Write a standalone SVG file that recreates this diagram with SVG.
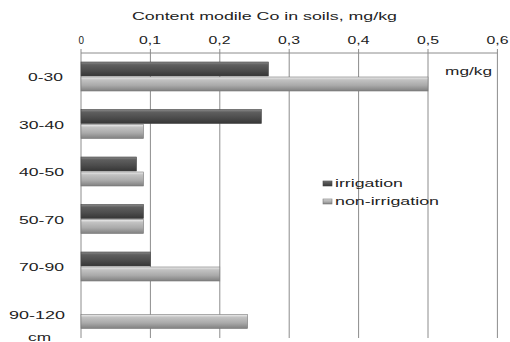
<svg xmlns="http://www.w3.org/2000/svg" width="510" height="342" viewBox="0 0 510 342">
<defs>
<linearGradient id="gDark" x1="0" y1="0" x2="0" y2="1">
<stop offset="0" stop-color="#8a8a8a"/>
<stop offset="0.2" stop-color="#5e5e5e"/>
<stop offset="0.6" stop-color="#4c4c4c"/>
<stop offset="1" stop-color="#363636"/>
</linearGradient>
<linearGradient id="gLight" x1="0" y1="0" x2="0" y2="1">
<stop offset="0" stop-color="#efefef"/>
<stop offset="0.2" stop-color="#c2c2c2"/>
<stop offset="0.6" stop-color="#aaaaaa"/>
<stop offset="1" stop-color="#808080"/>
</linearGradient>
<style>
.t{font-family:"Liberation Sans",Arial,sans-serif;font-size:10.5px;fill:#222}
.grid{stroke:#8c8c8c;stroke-width:1;fill:none}
.dark{fill:url(#gDark);stroke:#444;stroke-width:0.6}
.light{fill:url(#gLight);stroke:#777;stroke-width:0.6}
</style>
</defs>
<rect width="510" height="342" fill="#ffffff"/>
<text class="t" x="132" y="20" textLength="265" lengthAdjust="spacingAndGlyphs">Content  modile  Co in soils,  mg/kg</text>
<g id="axis">
<g class="grid">
<line x1="81" y1="53" x2="497.5" y2="53"/>
<line x1="81" y1="49" x2="81" y2="338"/>
<line x1="150.4" y1="49" x2="150.4" y2="338"/>
<line x1="219.8" y1="49" x2="219.8" y2="338"/>
<line x1="289.2" y1="49" x2="289.2" y2="338"/>
<line x1="358.6" y1="49" x2="358.6" y2="338"/>
<line x1="428" y1="49" x2="428" y2="338"/>
<line x1="497.4" y1="49" x2="497.4" y2="338"/>
</g>
<text class="t" x="78.5" y="44" textLength="5.5" lengthAdjust="spacingAndGlyphs">0</text>
<text class="t" x="139" y="44" textLength="22" lengthAdjust="spacingAndGlyphs">0,1</text>
<text class="t" x="208.5" y="44" textLength="22" lengthAdjust="spacingAndGlyphs">0,2</text>
<text class="t" x="278" y="44" textLength="22" lengthAdjust="spacingAndGlyphs">0,3</text>
<text class="t" x="347.5" y="44" textLength="22" lengthAdjust="spacingAndGlyphs">0,4</text>
<text class="t" x="417" y="44" textLength="22" lengthAdjust="spacingAndGlyphs">0,5</text>
<text class="t" x="486.5" y="44" textLength="22" lengthAdjust="spacingAndGlyphs">0,6</text>
<text class="t" x="445" y="75" textLength="47" lengthAdjust="spacingAndGlyphs">mg/kg</text>
</g>
<g id="cat-0-30">
<text class="t" x="28" y="81" textLength="35" lengthAdjust="spacingAndGlyphs">0-30</text>
<rect class="dark" x="81" y="62" width="187.4" height="14"/>
<rect class="light" x="81" y="77" width="347" height="14"/>
</g>
<g id="cat-30-40">
<text class="t" x="19" y="128.5" textLength="45" lengthAdjust="spacingAndGlyphs">30-40</text>
<rect class="dark" x="81" y="109.5" width="180.4" height="14"/>
<rect class="light" x="81" y="124.5" width="62.5" height="14"/>
</g>
<g id="cat-40-50">
<text class="t" x="19" y="176" textLength="45" lengthAdjust="spacingAndGlyphs">40-50</text>
<rect class="dark" x="81" y="157" width="55.5" height="14"/>
<rect class="light" x="81" y="172" width="62.5" height="14"/>
</g>
<g id="cat-50-70">
<text class="t" x="19" y="223.5" textLength="45" lengthAdjust="spacingAndGlyphs">50-70</text>
<rect class="dark" x="81" y="204.5" width="62.5" height="14"/>
<rect class="light" x="81" y="219.5" width="62.5" height="14"/>
</g>
<g id="cat-70-90">
<text class="t" x="19" y="271" textLength="45" lengthAdjust="spacingAndGlyphs">70-90</text>
<rect class="dark" x="81" y="252" width="69.4" height="14"/>
<rect class="light" x="81" y="267" width="138.8" height="14"/>
</g>
<g id="cat-90-120">
<text class="t" x="9" y="318.5" textLength="56" lengthAdjust="spacingAndGlyphs">90-120</text>
<rect class="light" x="81" y="314.5" width="166.6" height="14"/>
<text class="t" x="28" y="341" textLength="23" lengthAdjust="spacingAndGlyphs">cm</text>
</g>
<g id="legend">
<rect class="dark" x="323" y="181" width="9" height="5"/>
<text class="t" x="335" y="187" textLength="68" lengthAdjust="spacingAndGlyphs">irrigation</text>
<rect class="light" x="323" y="199" width="9" height="5"/>
<text class="t" x="335" y="205" textLength="104" lengthAdjust="spacingAndGlyphs">non-irrigation</text>
</g>
</svg>
